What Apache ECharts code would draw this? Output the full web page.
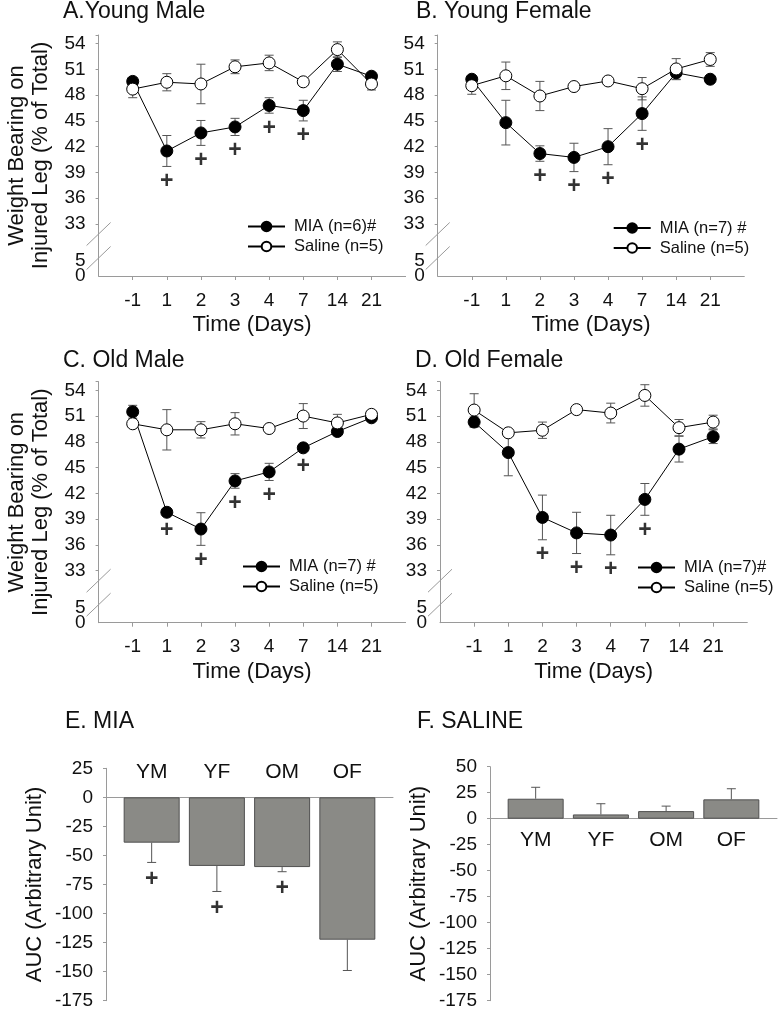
<!DOCTYPE html>
<html><head><meta charset="utf-8">
<script src="https://cdn.jsdelivr.net/npm/echarts@6/dist/echarts.min.js"></script>
<style>html,body{margin:0;padding:0;background:#fff}#c{width:780px;height:1010px}</style>
</head><body><div id="c"></div>
<script>
// ---------- data ----------
const days = ['-1', '1', '2', '3', '4', '7', '14', '21'];
const dayCats = [''].concat(days, ['']);   // blank slots at both ends of the time axis
const yTopMin = 33, yTopMax = 55, yTopStep = 3, yTopLast = 54;
const lowTicks = [0, 5];

const ymMIA = [49.6, 41.5, 43.6, 44.3, 46.8, 46.2, 51.6, 50.2];
const ymMIAErr = [0.4, 1.8, 1.45, 1.0, 0.9, 1.2, 0.85, 0.3];
const ymSal = [48.7, 49.5, 49.3, 51.3, 51.75, 49.55, 53.3, 49.3];
const ymSalErr = [1.0, 1.0, 2.3, 0.8, 0.9, 0.3, 0.9, 0.7];
const ymSig = [0, 1, 1, 1, 1, 1, 0, 0];

const yfMIA = [49.85, 44.8, 41.2, 40.75, 42.0, 45.85, 50.6, 49.85];
const yfMIAErr = [0.3, 2.6, 0.9, 1.65, 2.1, 1.95, 0.8, 0.4];
const yfSal = [49.1, 50.25, 47.9, 49.0, 49.65, 48.75, 51.05, 52.15];
const yfSalErr = [1.0, 1.6, 1.7, 0.3, 0.3, 1.3, 1.2, 0.8];
const yfSig = [0, 0, 1, 1, 1, 1, 0, 0];

const omMIA = [51.5, 39.8, 37.85, 43.45, 44.5, 47.3, 49.2, 50.8];
const omMIAErr = [0.75, 0.4, 1.9, 0.85, 1.0, 0.4, 0.3, 0.3];
const omSal = [50.1, 49.4, 49.4, 50.1, 49.55, 51.0, 50.2, 51.2];
const omSalErr = [0.3, 2.35, 0.95, 1.3, 0.3, 1.45, 1.0, 0.3];
const omSig = [0, 1, 1, 1, 1, 1, 0, 0];

const ofMIA = [50.3, 46.75, 39.2, 37.4, 37.15, 41.3, 47.15, 48.6];
const ofMIAErr = [0.6, 2.7, 2.6, 2.4, 2.3, 1.85, 1.5, 0.8];
const ofSal = [51.7, 49.05, 49.35, 51.75, 51.35, 53.4, 49.65, 50.3];
const ofSalErr = [1.9, 0.3, 0.95, 0.3, 1.15, 1.25, 0.95, 0.8];
const ofSig = [0, 0, 1, 1, 1, 1, 0, 0];

const panelTitles = ['A.Young Male', 'B. Young Female', 'C. Old Male', 'D. Old Female'];
const legendMIA = ['MIA (n=6)#', 'MIA (n=7) #', 'MIA (n=7) #', 'MIA (n=7)#'];
const legendSal = ['Saline (n=5)', 'Saline (n=5)', 'Saline (n=5)', 'Saline (n=5)'];

const groups = ['YM', 'YF', 'OM', 'OF'];
const miaAUC = [-39, -59, -60, -122.5];
const miaAUCErr = [17, 22, 4, 26.5];
const miaAUCSig = [1, 1, 1, 0];
const salAUC = [19.2, 4.1, 7.3, 18.6];
const salAUCErr = [11, 10.3, 4.8, 10.2];
const aucTicksE = [-175, 25];
const aucTicksF = [-175, 50];

// ---------- styling / layout ----------
const FONT = '"Liberation Sans", Arial, sans-serif';
const TXT = '#111';
const AX = '#9a9a9a';
const ERRC = '#555';

const panels = [
  {mia: ymMIA, miaErr: ymMIAErr, sal: ymSal, salErr: ymSalErr, sig: ymSig,
   box: {left: 98.6, top: 35, width: 307}, title: {left: 63, top: 1}, legend: {left: 247, top: 218}, yName: true},
  {mia: yfMIA, miaErr: yfMIAErr, sal: yfSal, salErr: yfSalErr, sig: yfSig,
   box: {left: 437.7, top: 35, width: 306.6}, title: {left: 416, top: 1}, legend: {left: 612.7, top: 219.5}, yName: false},
  {mia: omMIA, miaErr: omMIAErr, sal: omSal, salErr: omSalErr, sig: omSig,
   box: {left: 98.6, top: 381.7, width: 307}, title: {left: 63, top: 350}, legend: {left: 242, top: 558}, yName: true},
  {mia: ofMIA, miaErr: ofMIAErr, sal: ofSal, salErr: ofSalErr, sig: ofSig,
   box: {left: 440, top: 381.7, width: 307.3}, title: {left: 415, top: 350}, legend: {left: 637, top: 559}, yName: false}
];
const FULL_H = 241, UPPER_H = 189, LOWER_H = 52, LOWER_MAX = 52 / 3;

function lineErr(params, api) {
  const x = api.value(0);
  const a = api.coord([x, api.value(1)]);
  const b = api.coord([x, api.value(2)]);
  const w = 4.5;
  const st = {stroke: ERRC, lineWidth: 1};
  return {type: 'group', children: [
    {type: 'line', shape: {x1: a[0], y1: a[1], x2: b[0], y2: b[1]}, style: st},
    {type: 'line', shape: {x1: a[0] - w, y1: a[1], x2: a[0] + w, y2: a[1]}, style: st},
    {type: 'line', shape: {x1: b[0] - w, y1: b[1], x2: b[0] + w, y2: b[1]}, style: st}
  ]};
}
function barErr(params, api) {
  const x = api.value(0);
  const a = api.coord([x, api.value(1)]);
  const b = api.coord([x, api.value(2)]);
  const w = 4.5;
  const st = {stroke: ERRC, lineWidth: 1};
  return {type: 'group', children: [
    {type: 'line', shape: {x1: a[0], y1: a[1], x2: b[0], y2: b[1]}, style: st},
    {type: 'line', shape: {x1: b[0] - w, y1: b[1], x2: b[0] + w, y2: b[1]}, style: st}
  ]};
}

const grids = [], xAxes = [], yAxes = [], series = [], titles = [], legends = [];
const txt = (size) => ({fontFamily: FONT, fontSize: size, color: TXT});
const PLUS = {fontFamily: FONT, fontSize: 23, fontWeight: 'bold', color: '#000'};
const idx = [];

panels.forEach((p, k) => {
  const b = p.box;
  // full-height frame: time axis + continuous y axis line + y name
  const gFull = grids.length;
  grids.push({outerBoundsMode: 'none', left: b.left, top: b.top, width: b.width, height: FULL_H});
  const xFull = xAxes.length;
  xAxes.push({
    type: 'category', gridIndex: gFull, data: dayCats, boundaryGap: false, position: 'bottom',
    axisLine: {show: true, onZero: false, lineStyle: {color: AX, width: 1}},
    axisTick: {show: true, length: 4, lineStyle: {color: AX}, interval: (i) => i > 0 && i < dayCats.length - 1},
    axisLabel: Object.assign(txt(19), {margin: 15, interval: 0}),
    splitLine: {show: false},
    name: 'Time (Days)', nameLocation: 'middle', nameGap: 38, nameTextStyle: txt(22)
  });
  yAxes.push({
    type: 'value', gridIndex: gFull, min: 0, max: 1, position: 'left',
    axisLine: {show: true, onZero: false, lineStyle: {color: AX, width: 1}},
    axisTick: {show: false}, axisLabel: {show: false}, splitLine: {show: false},
    name: p.yName ? 'Weight Bearing on\nInjured Leg (% of Total)' : '',
    nameLocation: 'middle', nameGap: 46,
    nameTextStyle: Object.assign(txt(22), {lineHeight: 24})
  });
  // upper data region 33..55
  const gUp = grids.length;
  grids.push({outerBoundsMode: 'none', left: b.left, top: b.top, width: b.width, height: UPPER_H});
  const xUp = xAxes.length;
  xAxes.push({type: 'category', gridIndex: gUp, data: dayCats, boundaryGap: false, show: false});
  const yUp = yAxes.length;
  yAxes.push({
    type: 'value', gridIndex: gUp, min: yTopMin, max: yTopMax, interval: yTopStep, position: 'left',
    axisLine: {show: false, onZero: false},
    axisTick: {show: true, length: 3, lineStyle: {color: AX}},
    axisLabel: Object.assign(txt(19), {margin: 13, formatter: v => (v <= yTopLast ? String(v) : '')}),
    splitLine: {show: false}
  });
  // lower region 0..5 (each label on its own axis so neither is dropped as overlapping)
  const gLow = grids.length;
  grids.push({outerBoundsMode: 'none', left: b.left, top: b.top + UPPER_H, width: b.width, height: LOWER_H});
  xAxes.push({type: 'category', gridIndex: gLow, data: dayCats, boundaryGap: false, show: false});
  let yLow = -1;
  lowTicks.forEach(t => {
    if (t === lowTicks[1]) yLow = yAxes.length;
    yAxes.push({
      type: 'value', gridIndex: gLow, min: 0, max: LOWER_MAX, position: 'left',
      axisLine: {show: false, onZero: false}, axisTick: {show: false}, splitLine: {show: false},
      axisLabel: Object.assign(txt(19), {margin: 13, customValues: [t]})
    });
  });
  idx.push({xFull, yUp, yLow});

  titles.push({text: panelTitles[k], left: p.title.left, top: p.title.top, padding: 0,
    textStyle: Object.assign(txt(23), {fontWeight: 'normal', lineHeight: 22})});
  const nM = 'MIA-' + k, nS = 'SAL-' + k;
  legends.push({
    data: [nM, nS], orient: 'vertical', left: p.legend.left, top: p.legend.top,
    padding: 0, itemGap: 3, itemWidth: 37, itemHeight: 12, selectedMode: false,
    textStyle: Object.assign(txt(16.5), {padding: [0, 0, 0, 4]}),
    formatter: name => name === nM ? legendMIA[k] : legendSal[k]
  });
  const ax = {xAxisIndex: xUp, yAxisIndex: yUp};
  series.push(Object.assign({
    type: 'custom', z: 1, renderItem: lineErr, encode: {x: 0, y: [1, 2]}, silent: true,
    data: p.mia.map((v, i) => [i + 1, v - p.miaErr[i], v + p.miaErr[i]])
  }, ax));
  series.push(Object.assign({
    type: 'custom', z: 1, renderItem: lineErr, encode: {x: 0, y: [1, 2]}, silent: true,
    data: p.sal.map((v, i) => [i + 1, v - p.salErr[i], v + p.salErr[i]])
  }, ax));
  series.push(Object.assign({
    name: nM, type: 'line', z: 3, symbol: 'circle', symbolSize: 12, showAllSymbol: true,
    itemStyle: {color: '#000', borderColor: '#000', borderWidth: 1},
    lineStyle: {color: '#000', width: 1},
    data: p.mia.map((v, i) => [i + 1, v])
  }, ax));
  series.push(Object.assign({
    name: nS, type: 'line', z: 4, symbol: 'circle', symbolSize: 12, showAllSymbol: true,
    itemStyle: {color: '#fff', borderColor: '#000', borderWidth: 1},
    lineStyle: {color: '#000', width: 1},
    data: p.sal.map((v, i) => [i + 1, v])
  }, ax));
  series.push(Object.assign({
    type: 'scatter', z: 5, silent: true, symbolSize: 1, itemStyle: {color: 'rgba(0,0,0,0)'},
    label: Object.assign({show: true, position: 'inside', offset: [0, 15], formatter: '+'}, PLUS),
    data: p.mia.map((v, i) => [i + 1, v - p.miaErr[i]]).filter((d, i) => p.sig[i])
  }, ax));
});

// AUC panels: one x axis carries the zero line, another carries the group labels
const aucPanels = [
  {vals: miaAUC, err: miaAUCErr, sig: miaAUCSig, grid: {left: 106, top: 768.3, width: 287, height: 232.4},
   ticks: aucTicksE, labelMargin: -14, title: 'E. MIA', tl: 65},
  {vals: salAUC, err: salAUCErr, sig: [0, 0, 0, 0], grid: {left: 490, top: 766.7, width: 287, height: 234},
   ticks: aucTicksF, labelMargin: -84, title: 'F. SALINE', tl: 417}
];
aucPanels.forEach((p, j) => {
  const gi = grids.length;
  grids.push(Object.assign({outerBoundsMode: 'none'}, p.grid));
  const xi = xAxes.length;
  xAxes.push({
    type: 'value', gridIndex: gi, min: -0.7, max: 3.7, position: 'bottom',
    axisLine: {show: true, onZero: true, lineStyle: {color: AX, width: 1}},
    axisTick: {show: false}, axisLabel: {show: false}, splitLine: {show: false}
  });
  xAxes.push({
    type: 'value', gridIndex: gi, min: -0.7, max: 3.7, position: 'top',
    axisLine: {show: false, onZero: false}, axisTick: {show: false}, splitLine: {show: false},
    axisLabel: Object.assign(txt(21), {margin: p.labelMargin,
      customValues: groups.map((g, i) => i), formatter: v => groups[v]})
  });
  const yi = yAxes.length;
  yAxes.push({
    type: 'value', gridIndex: gi, min: p.ticks[0], max: p.ticks[1], interval: 25, position: 'left',
    axisLine: {show: true, onZero: false, lineStyle: {color: AX, width: 1}},
    axisTick: {show: true, length: 3, lineStyle: {color: AX}},
    axisLabel: Object.assign(txt(19), {margin: 13}),
    splitLine: {show: false},
    name: 'AUC (Arbitrary Unit)', nameLocation: 'middle', nameGap: 60,
    nameTextStyle: txt(22)
  });
  titles.push({text: p.title, left: p.tl, top: 711, padding: 0,
    textStyle: Object.assign(txt(23), {fontWeight: 'normal', lineHeight: 22})});
  const ax = {xAxisIndex: xi, yAxisIndex: yi};
  series.push(Object.assign({
    type: 'bar', z: 2, barWidth: 56, silent: true,
    itemStyle: {color: '#8a8a86', borderColor: '#505050', borderWidth: 1},
    data: p.vals.map((v, i) => [i, v])
  }, ax));
  series.push(Object.assign({
    type: 'custom', z: 3, renderItem: barErr, encode: {x: 0, y: [1, 2]}, silent: true,
    data: p.vals.map((v, i) => [i, v, v + Math.sign(v) * p.err[i]])
  }, ax));
  series.push(Object.assign({
    type: 'scatter', z: 5, silent: true, symbolSize: 1, itemStyle: {color: 'rgba(0,0,0,0)'},
    label: Object.assign({show: true, position: 'inside', offset: [0, 17], formatter: '+'}, PLUS),
    data: p.vals.map((v, i) => [i, v + Math.sign(v) * p.err[i]]).filter((d, i) => p.sig[i])
  }, ax));
});

const chart = echarts.init(document.getElementById('c'), null, {renderer: 'canvas'});
chart.setOption({
  animation: false,
  backgroundColor: '#fff',
  textStyle: {fontFamily: FONT},
  title: titles, legend: legends, grid: grids,
  xAxis: xAxes, yAxis: yAxes, series: series
});

// axis-break marks
const gfx = [];
idx.forEach(ix => {
  const x0 = chart.convertToPixel({xAxisIndex: ix.xFull}, 0);
  const y33 = chart.convertToPixel({yAxisIndex: ix.yUp}, yTopMin);
  const y5 = chart.convertToPixel({yAxisIndex: ix.yLow}, lowTicks[1]);
  [y33 + 10, y5 - 3].forEach(cy => {
    gfx.push({type: 'line', shape: {x1: x0 - 12, y1: cy + 11.5, x2: x0 + 12, y2: cy - 11.5},
      style: {stroke: AX, lineWidth: 1}, z: 10});
  });
});
chart.setOption({graphic: gfx});
</script>
</body></html>
